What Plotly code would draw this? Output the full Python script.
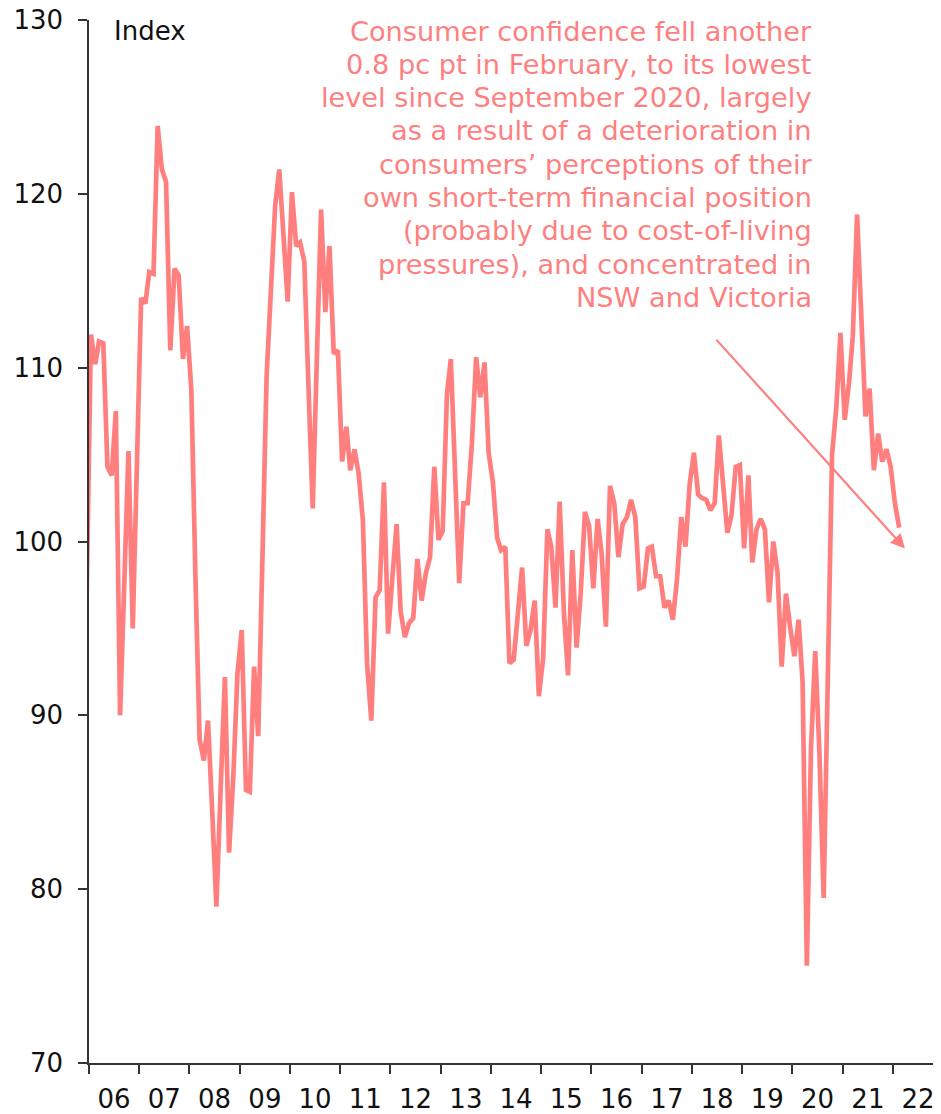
import plotly.graph_objects as go
import pandas as pd

# Consumer sentiment index, monthly (Dec 2005 point is clipped by the axis)
v2005 = [97.0]
v2006 = [111.9, 110.2, 111.5, 111.4, 104.3, 103.8, 107.5, 90.0, 97.6, 105.2, 95.0, 104.5]
v2007 = [114.0, 113.7, 115.5, 115.4, 123.9, 121.4, 120.7, 111.0, 115.7, 115.3, 110.5, 112.4]
v2008 = [108.7, 97.5, 88.6, 87.4, 89.7, 84.4, 79.0, 85.8, 92.2, 82.1, 86.5, 92.4]
v2009 = [94.9, 85.7, 85.6, 92.8, 88.8, 99.2, 109.5, 114.4, 119.3, 121.4, 117.6, 113.8]
v2010 = [120.1, 117.0, 117.2, 116.1, 109.0, 101.9, 110.5, 119.1, 113.2, 117.0, 110.8, 111.0]
v2011 = [104.6, 106.6, 104.1, 105.3, 103.9, 101.2, 93.0, 89.7, 96.8, 97.2, 103.4, 94.7]
v2012 = [97.9, 101.0, 96.0, 94.5, 95.3, 95.6, 99.0, 96.6, 98.2, 99.1, 104.3, 100.1]
v2013 = [100.6, 108.5, 110.5, 104.5, 97.6, 102.2, 102.2, 105.6, 110.6, 108.3, 110.3, 105.1]
v2014 = [103.4, 100.2, 99.5, 99.7, 93.0, 93.2, 95.5, 98.5, 94.0, 94.9, 96.6, 91.1]
v2015 = [93.3, 100.7, 99.7, 96.2, 102.3, 95.9, 92.3, 99.5, 93.9, 97.0, 101.7, 100.9]
v2016 = [97.3, 101.3, 99.3, 95.1, 103.2, 102.2, 99.1, 101.0, 101.4, 102.4, 101.4, 97.3]
v2017 = [97.4, 99.6, 99.7, 98.0, 98.0, 96.2, 96.6, 95.5, 97.9, 101.4, 99.7, 103.3]
v2018 = [105.1, 102.7, 102.5, 102.4, 101.8, 102.2, 106.1, 103.4, 100.5, 101.5, 104.3, 104.4]
v2019 = [99.6, 103.8, 98.8, 100.7, 101.3, 100.7, 96.5, 100.0, 98.2, 92.8, 97.0, 95.1]
v2020 = [93.4, 95.5, 91.9, 75.6, 88.1, 93.7, 87.9, 79.5, 93.8, 105.0, 107.7, 112.0]
v2021 = [107.0, 109.1, 111.8, 118.8, 113.1, 107.2, 108.8, 104.1, 106.2, 104.6, 105.3, 104.3]
v2022 = [102.2, 100.8]

y_ticks = [70, 80, 90, 100, 110, 120, 130]

note_lines = [
    "Consumer confidence fell another",
    "0.8 pc pt in February, to its lowest",
    "level since September 2020, largely",
    "as a result of a deterioration in",
    "consumers’ perceptions of their",
    "own short-term financial position",
    "(probably due to cost-of-living",
    "pressures), and concentrated in",
    "NSW and Victoria",
]

values = (v2005 + v2006 + v2007 + v2008 + v2009 + v2010 + v2011 + v2012 + v2013
          + v2014 + v2015 + v2016 + v2017 + v2018 + v2019 + v2020 + v2021 + v2022)
dates = pd.date_range("2005-12-01", periods=len(values), freq="MS") + pd.Timedelta(days=14)

LINE = "#FF7F7F"
AXIS = "#333333"
FONT = "DejaVu Sans"
TXT = "#111111"

# the page adds an 8px body margin, so the figure is laid out 8px smaller
PAGE_OFF = 8
W, H = 941 - PAGE_OFF, 1114 - PAGE_OFF
PLOT_L, PLOT_T, PLOT_R, PLOT_B = 89, 20, 941, 1063  # target page pixels
PW, PH = PLOT_R - PLOT_L, PLOT_B - PLOT_T

fig = go.Figure()
fig.add_trace(go.Scatter(x=dates, y=values, mode="lines",
                         line=dict(color=LINE, width=4.7), hoverinfo="skip"))

fig.update_layout(
    width=W, height=H,
    margin=dict(l=PLOT_L - PAGE_OFF, r=0, t=PLOT_T - PAGE_OFF,
                b=H - (PLOT_B - PAGE_OFF), autoexpand=False),
    paper_bgcolor="white", plot_bgcolor="white",
    showlegend=False,
    font=dict(family=FONT, size=26, color=TXT),
)

fig.update_xaxes(
    type="date", range=["2006-01-01", "2022-12-16"], automargin=False,
    tick0="2006-01-01", dtick="M12", ticklabelmode="period", tickformat="%y",
    ticks="outside", ticklen=9, tickwidth=1.5, tickcolor=AXIS,
    showline=True, linecolor=AXIS, linewidth=1.5,
    showgrid=False, zeroline=False, ticklabelstandoff=3,
    ticklabeloverflow="allow",
    tickfont=dict(family=FONT, size=26, color=TXT),
)
fig.update_yaxes(
    range=[70, 130], tickvals=y_ticks, automargin=False,
    ticks="outside", ticklen=9, tickwidth=1.5, tickcolor=AXIS,
    showline=True, linecolor=AXIS, linewidth=1.5,
    showgrid=False, zeroline=False, ticklabelstandoff=10,
    ticklabeloverflow="allow",
    tickfont=dict(family=FONT, size=26, color=TXT),
)

fig.add_annotation(text="Index", xref="paper", yref="paper",
                   x=(112 - PLOT_L) / PW, y=(PLOT_B - 31) / PH,
                   xanchor="left", yanchor="middle",
                   showarrow=False, font=dict(family=FONT, size=26, color=TXT))

for k, line in enumerate(note_lines):
    ypix = 31 + 33.3 * k
    fig.add_annotation(text=line, xref="paper", yref="paper",
                       x=(814 - PLOT_L) / PW, y=(PLOT_B - ypix) / PH,
                       xanchor="right", yanchor="middle", showarrow=False,
                       font=dict(family=FONT, size=27.2, color=LINE))

fig.add_annotation(x="2022-03-29", y=99.6, ax="2018-06-17", ay=111.7,
                   xref="x", yref="y", axref="x", ayref="y", text="",
                   showarrow=True, arrowhead=2, arrowsize=1.3, arrowwidth=2.2,
                   arrowcolor=LINE)

fig.write_html("out.html")
